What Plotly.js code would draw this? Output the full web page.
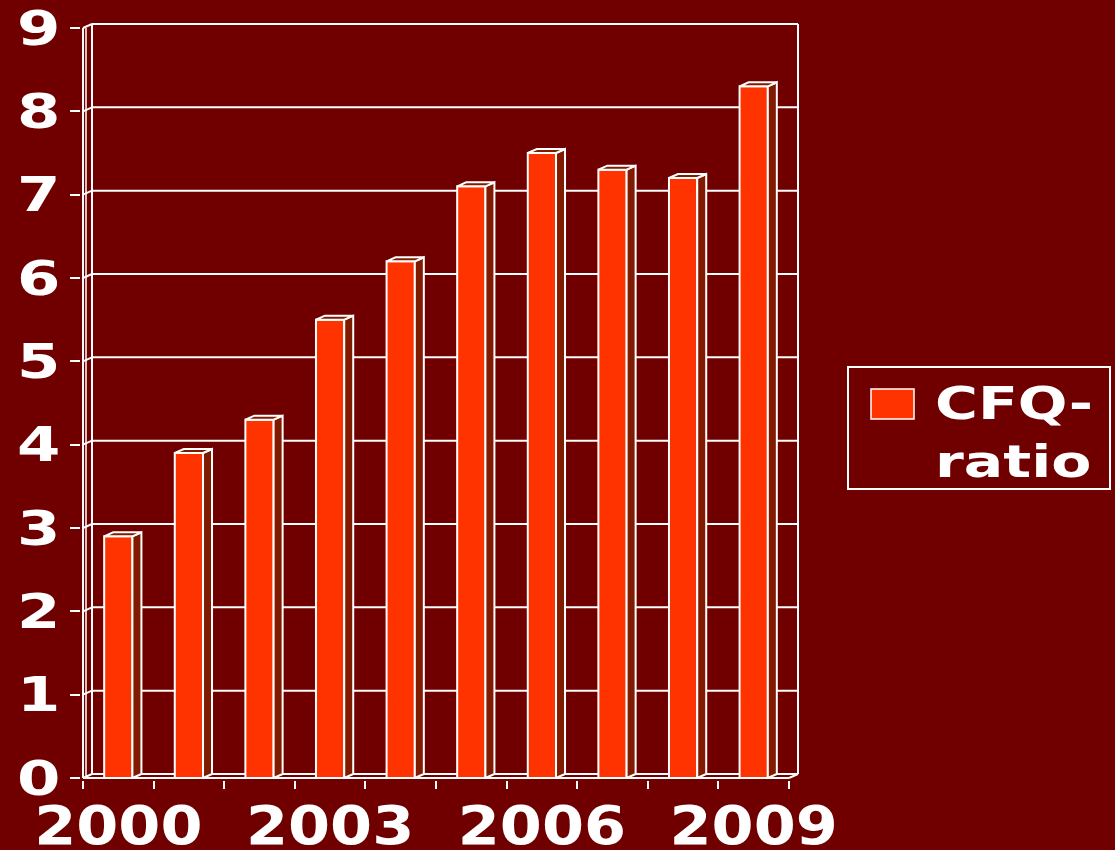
<!DOCTYPE html>
<html>
<head>
<meta charset="utf-8">
<script src="https://cdn.plot.ly/plotly-3.0.1.min.js"></script>
<style>html,body{margin:0;padding:0;background:#700000;}#chart{width:1115px;height:850px;}</style>
</head>
<body>
<div id="chart"></div>
<script>
// ---- data ----
const years = [2000, 2001, 2002, 2003, 2004, 2005, 2006, 2007, 2008, 2009];
const cfqRatio = [2.9, 3.9, 4.3, 5.5, 6.2, 7.1, 7.5, 7.3, 7.2, 8.3];
const seriesName = "CFQ-ratio";
const yTickValues = [0, 1, 2, 3, 4, 5, 6, 7, 8, 9];
const xTickYears = [2000, 2003, 2006, 2009];

// ---- geometry (pixels) ----
const W_UNIT = 70.6, H_UNIT = 83.33;   // px per category / per y unit
const DEPTH_X = 9, DEPTH_Y = 4, PAD = 2;
const BAR_W = 0.4;
const dx = DEPTH_X / W_UNIT, dy = DEPTH_Y / H_UNIT;
const xMin = years[0] - 0.5, xMax = years[years.length - 1] + 0.5;
const yMax = yTickValues[yTickValues.length - 1];
const plotL = 81, plotT = 22;
const plotW = (xMax - xMin) * W_UNIT + DEPTH_X + 2 * PAD;
const plotH = yMax * H_UNIT + DEPTH_Y + 2 * PAD;

const BG = '#700000', BAR = '#FF3300', SIDE = '#801A00', WHITE = '#FFFFFF';
const FONT = 'Verdana, "DejaVu Sans", sans-serif';

// ---- 3D faces built from data ----
const sideX = [], sideY = [], topX = [], topY = [];
years.forEach((yr, i) => {
  const v = cfqRatio[i];
  const l = yr - BAR_W / 2, r = yr + BAR_W / 2;
  sideX.push(r, r + dx, r + dx, r, r, null);
  sideY.push(0, dy, v + dy, v, 0, null);
  topX.push(l, l + dx, r + dx, r, l, null);
  topY.push(v, v + dy, v + dy, v, v, null);
});

const traces = [
  {type: 'bar', x: years, y: cfqRatio, width: BAR_W, name: seriesName,
   marker: {color: BAR, line: {color: WHITE, width: 2}}, hoverinfo: 'x+y', showlegend: false},
  {type: 'scatter', x: sideX, y: sideY, mode: 'lines', fill: 'toself', fillcolor: SIDE,
   line: {color: WHITE, width: 2}, hoverinfo: 'skip', showlegend: false, cliponaxis: false},
  {type: 'scatter', x: topX, y: topY, mode: 'lines', fill: 'toself', fillcolor: SIDE,
   line: {color: WHITE, width: 2}, hoverinfo: 'skip', showlegend: false, cliponaxis: false}
];

// ---- walls & grid (shapes) ----
const line = {color: WHITE, width: 2};
const shapes = [];
yTickValues.forEach(v => {
  shapes.push({type: 'line', layer: 'below', xref: 'x', yref: 'y', x0: xMin + dx, x1: xMax + dx, y0: v + dy, y1: v + dy, line});
  shapes.push({type: 'line', layer: 'below', xref: 'x', yref: 'y', x0: xMin, x1: xMin + dx, y0: v, y1: v + dy, line});
});
shapes.push({type: 'line', layer: 'below', xref: 'x', yref: 'y', x0: xMin + dx, x1: xMin + dx, y0: dy, y1: yMax + dy, line});
shapes.push({type: 'line', layer: 'below', xref: 'x', yref: 'y', x0: xMax + dx, x1: xMax + dx, y0: dy, y1: yMax + dy, line});
shapes.push({type: 'line', layer: 'below', xref: 'x', yref: 'y', x0: xMin, x1: xMin, y0: 0, y1: yMax, line});
shapes.push({type: 'line', layer: 'below', xref: 'x', yref: 'y', x0: xMin + 3 / W_UNIT, x1: xMin + 3 / W_UNIT, y0: 0, y1: yMax, line: {color: WHITE, width: 1.5}});
shapes.push({type: 'line', layer: 'below', xref: 'x', yref: 'y', x0: xMin, x1: xMax, y0: 0, y1: 0, line});
shapes.push({type: 'line', layer: 'below', xref: 'x', yref: 'y', x0: xMax, x1: xMax + dx, y0: 0, y1: dy, line});

// ---- legend (paper coords from pixel positions) ----
const px2x = p => (p - plotL) / plotW;
const py2y = p => (plotT + plotH - p) / plotH;
shapes.push({type: 'rect', xref: 'paper', yref: 'paper', x0: px2x(848), x1: px2x(1110), y0: py2y(489), y1: py2y(367),
  line: {color: WHITE, width: 2}, fillcolor: 'rgba(0,0,0,0)'});
shapes.push({type: 'rect', xref: 'paper', yref: 'paper', x0: px2x(871), x1: px2x(914), y0: py2y(419), y1: py2y(389),
  line: {color: WHITE, width: 1.5}, fillcolor: BAR});

const annotations = [{
  xref: 'paper', yref: 'paper', x: px2x(933), y: py2y(433), xanchor: 'left', yanchor: 'middle',
  text: seriesName.replace('-', '-<br>'), showarrow: false, align: 'left',
  font: {family: FONT, size: 45, weight: 700, color: WHITE}
}];

const boundaries = years.map(y => y - 0.5).concat([xMax]);

const layout = {
  width: 1115, height: 850,
  paper_bgcolor: BG, plot_bgcolor: 'rgba(0,0,0,0)',
  margin: {l: plotL, t: plotT, r: 1115 - plotL - plotW, b: 850 - plotT - plotH, pad: 0},
  showlegend: false,
  bargap: 0,
  xaxis: {
    range: [xMin - PAD / W_UNIT, xMax + (DEPTH_X + PAD) / W_UNIT],
    tickmode: 'array', tickvals: xTickYears, ticktext: xTickYears.map(String),
    ticks: '', showgrid: false, zeroline: false, showline: false,
    ticklabelstandoff: 9, ticklabeloverflow: 'allow',
    tickfont: {family: FONT, size: 54, weight: 700, color: WHITE},
    minor: {tickmode: 'array', tickvals: boundaries, ticks: 'outside', ticklen: 8, tickwidth: 2, tickcolor: WHITE, showgrid: false},
    fixedrange: true
  },
  yaxis: {
    range: [-PAD / H_UNIT, yMax + (DEPTH_Y + PAD) / H_UNIT],
    tickmode: 'array', tickvals: yTickValues,
    ticks: 'outside', ticklen: 10, tickwidth: 2, tickcolor: WHITE,
    showgrid: false, zeroline: false, showline: false,
    ticklabeloverflow: 'allow',
    tickfont: {family: FONT, size: 48, weight: 700, color: WHITE},
    fixedrange: true
  },
  shapes, annotations
};

// widen text horizontally (reference glyphs are stretched), keeping anchor point fixed
function stretch(selector, sx, anchor) {
  document.querySelectorAll(selector).forEach(t => {
    const b = t.getBBox();
    const ax = anchor === 'end' ? b.x + b.width : anchor === 'start' ? b.x : b.x + b.width / 2;
    const prev = t.getAttribute('transform') || '';
    t.setAttribute('transform', prev + ' translate(' + ax + ',0) scale(' + sx + ',1) translate(' + (-ax) + ',0)');
  });
}

Plotly.newPlot('chart', traces, layout, {displayModeBar: false, staticPlot: true}).then(() => {
  stretch('#chart .ytick text', 1.3, 'end');
  stretch('#chart .xtick text', 1.12, 'middle');
  stretch('#chart .annotation-text', 1.3, 'start');
});
</script>
</body>
</html>
